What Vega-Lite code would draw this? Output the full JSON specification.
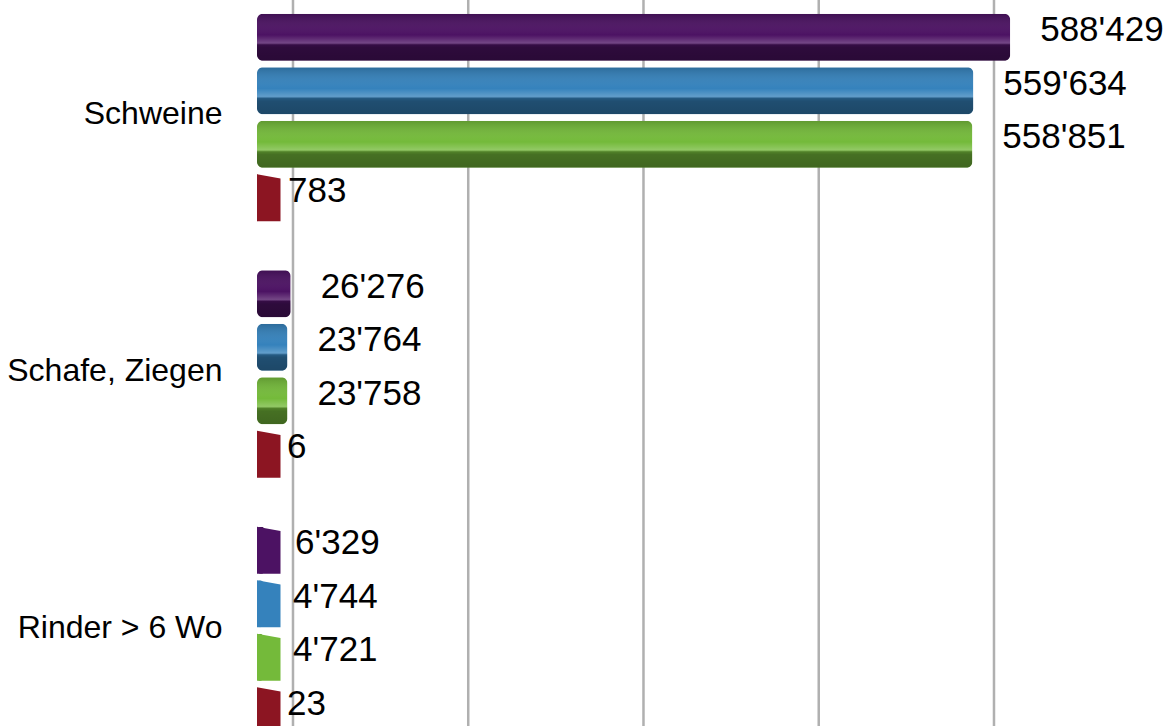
{
  "$schema": "https://vega.github.io/schema/vega-lite/v6.json",
  "width": 896,
  "height": 748,
  "autosize": {"type": "none"},
  "padding": {"left": 257, "top": 0, "right": 20, "bottom": 0},
  "background": "#ffffff",
  "config": {
    "view": {"stroke": null},
    "locale": {"number": {"decimal": ".", "thousands": "'", "grouping": [3], "currency": ["", ""]}}
  },
  "resolve": {"scale": {"x": "independent"}},
  "layer": [
    {
      "data": {"values": [{"g": 0}, {"g": 150000}, {"g": 300000}, {"g": 450000}, {"g": 600000}]},
      "mark": {"type": "rule", "color": "#b0b0b0", "strokeWidth": 2.5},
      "encoding": {
        "x": {"field": "g", "type": "quantitative", "scale": {"domain": [-30800, 736100], "nice": false, "zero": false}, "axis": null}
      }
    },
    {
      "data": {"values": [
        {"cat": "Schweine", "s": "Serie 1", "value": 588429},
        {"cat": "Schweine", "s": "Serie 2", "value": 559634},
        {"cat": "Schweine", "s": "Serie 3", "value": 558851},
        {"cat": "Schweine", "s": "Serie 4", "value": 783},
        {"cat": "Schafe, Ziegen", "s": "Serie 1", "value": 26276},
        {"cat": "Schafe, Ziegen", "s": "Serie 2", "value": 23764},
        {"cat": "Schafe, Ziegen", "s": "Serie 3", "value": 23758},
        {"cat": "Schafe, Ziegen", "s": "Serie 4", "value": 6},
        {"cat": "Rinder > 6 Wo", "s": "Serie 1", "value": 6329},
        {"cat": "Rinder > 6 Wo", "s": "Serie 2", "value": 4744},
        {"cat": "Rinder > 6 Wo", "s": "Serie 3", "value": 4721},
        {"cat": "Rinder > 6 Wo", "s": "Serie 4", "value": 23}
      ]},
      "encoding": {
        "y": {
          "field": "cat", "type": "nominal",
          "sort": ["Schweine", "Schafe, Ziegen", "Rinder > 6 Wo"],
          "scale": {"paddingInner": 0.166, "paddingOuter": 0.041},
          "axis": {"title": null, "domain": false, "ticks": false, "labelFontSize": 32, "labelFont": "Liberation Sans", "labelColor": "#000000", "labelPadding": 35, "labelLimit": 300, "labelOffset": -3}
        },
        "yOffset": {
          "field": "s", "type": "nominal",
          "sort": ["Serie 1", "Serie 2", "Serie 3", "Serie 4"],
          "scale": {"paddingInner": 0.12, "paddingOuter": 0.06}
        },
        "x": {"field": "value", "type": "quantitative", "scale": {"domain": [0, 700000], "nice": false}, "axis": null},
        "color": {
          "field": "s", "type": "nominal", "legend": null,
          "scale": {"domain": ["Serie 1", "Serie 2", "Serie 3", "Serie 4"], "range": ["#4c1263", "#3582bc", "#74ba3a", "#8c1522"]}
        }
      },
      "layer": [
        {
          "mark": {"type": "bar", "cornerRadius": 6}
        },
        {
          "mark": {"type": "bar", "cornerRadius": 6},
          "encoding": {
            "color": {"value": {
              "gradient": "linear", "x1": 0, "y1": 0, "x2": 0, "y2": 1,
              "stops": [
                {"offset": 0, "color": "rgba(0,0,0,0.18)"},
                {"offset": 0.45, "color": "rgba(255,255,255,0.0)"},
                {"offset": 0.62, "color": "rgba(255,255,255,0.22)"},
                {"offset": 0.66, "color": "rgba(0,0,0,0.3)"},
                {"offset": 0.72, "color": "rgba(0,0,0,0.4)"},
                {"offset": 1, "color": "rgba(0,0,0,0.45)"}
              ]
            }}
          }
        },
        {
          "transform": [{"filter": "datum.value < 20000"}],
          "mark": {"type": "point", "shape": "M0,-1L1,-0.82L1,1L0,1Z", "size": 2209, "filled": true, "opacity": 1, "strokeWidth": 0},
          "encoding": {"x": {"datum": 0}}
        },
        {
          "mark": {"type": "text", "align": "left", "baseline": "middle", "dx": 30, "dy": -7, "fontSize": 35, "font": "Liberation Sans"},
          "encoding": {
            "text": {"field": "value", "type": "quantitative", "format": ",d"},
            "color": {"value": "#000000"}
          }
        }
      ]
    }
  ]
}
